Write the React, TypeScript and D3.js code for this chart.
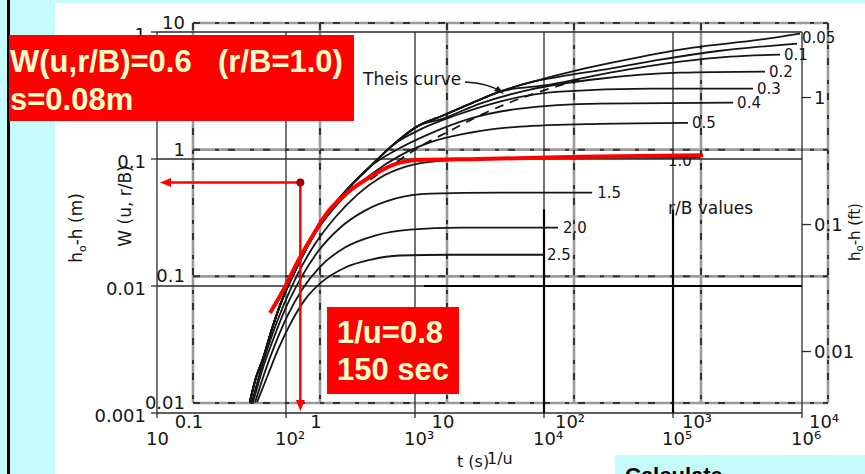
import React, { useEffect, useRef } from 'react';
import * as d3 from 'd3';

const width = 865;
const height = 474;

// type curve sheet: 1/u against W(u, r/B)
const typeXTicks = [0.1, 1, 10, 100, 1000, 10000];
const typeXLabels = ['0.1', '1', '10', '10²', '10³', '10⁴'];
const typeYTicks = [0.01, 0.1, 1, 10];
const typeYLabels = ['0.01', '0.1', '1', '10'];

// data sheet: t (s) against h0-h (m), right axis in ft
const dataXTicks = [10, 100, 1000, 1e4, 1e5, 1e6];
const dataXLabels = ['10', '10²', '10³', '10⁴', '10⁵', '10⁶'];
const dataYTicks = [0.001, 0.01, 0.1, 1];
const dataYLabels = ['0.001', '0.01', '0.1', '1'];
const ftTicks = [1, 0.1, 0.01];
const ftLabels = ['1', '0.1', '0.01'];

// [1/u, W]
const theis: [number, number][] = [
  [0.28, 0.0101], [0.31, 0.0153], [0.36, 0.0232], [0.41, 0.036], [0.48, 0.0577],
  [0.66, 0.119], [0.88, 0.206], [1.2, 0.336], [1.72, 0.511], [2.48, 0.734],
  [3.76, 1.09], [5.8, 1.52], [9.3, 1.86], [16, 2.35], [26.1, 2.87], [47.6, 3.44],
  [111, 4.28], [261, 5.13], [865, 6.38], [2915, 7.38], [6020, 8.24],
];
// leaky curves leaving the Theis curve (first point lies on it)
const rB005: [number, number][] = [[47.6, 3.44], [77.6, 3.77], [192, 4.36], [476, 5.13], [1413, 6.04], [2915, 6.5], [5700, 6.87]];
const rB01: [number, number][] = [[26.1, 2.87], [64.7, 3.26], [192, 4.05], [683, 4.95], [1690, 5.42], [4190, 5.62]];
const rB02: [number, number][] = [[5.8, 1.52], [9.3, 1.76], [18.2, 2.31], [45, 2.98], [160, 3.63], [683, 4.05], [3190, 4.13]];
const rB03: [number, number][] = [[3.76, 1.09], [6.13, 1.44], [11.6, 1.86], [26.1, 2.4], [77.6, 2.87], [397, 3.03], [2570, 3.03]];
const rB04: [number, number][] = [[2.48, 0.734], [3.9, 0.982], [7.35, 1.34], [15.2, 1.76], [37.6, 2.11], [160, 2.31], [1790, 2.35]];
const rB06: [number, number][] = [[0.88, 0.206], [1.24, 0.33], [1.72, 0.466], [2.57, 0.647], [4.26, 0.897], [7.35, 1.14], [15.2, 1.36], [37.6, 1.52], [160, 1.6], [790, 1.63]];
// curves drawn in full
const rB10: [number, number][] = [[0.29, 0.0101], [0.35, 0.0198], [0.42, 0.0345], [0.52, 0.06], [0.67, 0.105], [0.913, 0.18], [1.31, 0.29], [1.96, 0.44], [2.97, 0.6], [4.67, 0.73], [8.81, 0.815], [26.1, 0.849], [160, 0.865], [982, 0.865]];
const rB15: [number, number][] = [[0.297, 0.0101], [0.356, 0.019], [0.427, 0.0316], [0.53, 0.0546], [0.696, 0.0942], [0.964, 0.157], [1.44, 0.242], [2.26, 0.33], [3.9, 0.41], [7.35, 0.45], [26.1, 0.458], [139, 0.458]];
const rB20: [number, number][] = [[0.308, 0.0101], [0.369, 0.0177], [0.442, 0.0289], [0.55, 0.0481], [0.721, 0.0785], [1, 0.119], [1.57, 0.169], [2.71, 0.21], [5.11, 0.234], [12.7, 0.242], [74.8, 0.242]];
const rB25: [number, number][] = [[0.319, 0.0101], [0.39, 0.0168], [0.467, 0.0264], [0.58, 0.0416], [0.762, 0.0655], [1.04, 0.0908], [1.57, 0.117], [2.48, 0.135], [4.26, 0.146], [10.6, 0.148], [57, 0.148]];
const dashedCurve: [number, number][] = [[2.48, 0.58], [4.26, 0.834], [6.96, 1.14], [10.6, 1.41], [17.2, 1.82], [29.7, 2.31], [54, 2.87], [111, 3.57]];

const leakyLabels = ['0.05', '0.1', '0.2', '0.3', '0.4', '0.5'];
const fullLabels = ['1.0', '1.5', '2.0', '2.5'];

// observed drawdown, [t (s), h0-h (m)]
const observed: [number, number][] = [
  [75.2, 0.00613], [98.2, 0.00981], [121.7, 0.0152], [153.5, 0.023], [208, 0.0376],
  [297, 0.054], [448, 0.0721], [675, 0.0898], [1037, 0.0981], [3190, 0.1],
  [19000, 0.104], [171000, 0.107],
];
const matchInvU = 0.7;
const matchW = 0.55;

const scanFont = 'DejaVu Sans, sans-serif';
const boxFont = 'Liberation Sans, Arial, sans-serif';
const ink = '#151515';

const App = () => {
  const ref = useRef<SVGSVGElement>(null);

  useEffect(() => {
    const svg = d3.select(ref.current);
    svg.selectAll('*').remove();

    const xT = d3.scaleLog().domain([0.1, 1e4]).range([193, 828]);
    const yT = d3.scaleLog().domain([0.01, 10]).range([403, 23]);
    const xD = d3.scaleLog().domain([10, 1e6]).range([157, 802]);
    const yD = d3.scaleLog().domain([0.001, 1]).range([413, 32]);
    const yFt = d3.scaleLog().domain([0.001 / 0.3048, 1 / 0.3048]).range([413, 32]);

    svg.append('rect').attr('width', width).attr('height', height).attr('fill', '#c6fbfc');
    svg.append('rect').attr('x', 55).attr('y', 3).attr('width', width - 55).attr('height', height - 3).attr('fill', '#fff');
    svg.append('rect').attr('x', 7).attr('y', 0).attr('width', 3).attr('height', height).attr('fill', '#000');

    // type curve grid (scanned, grey with darker patches)
    const tg = svg.append('g');
    const typeGridStyle = (sel: any) => {
      sel.attr('stroke', '#9a9a9a').attr('stroke-width', 2.6);
    };
    const typeGridDark = (sel: any) => {
      sel.attr('stroke', '#333').attr('stroke-width', 2).attr('stroke-dasharray', '7 15 4 9');
    };
    [typeGridStyle, typeGridDark].forEach(style => {
      tg.selectAll(null).data(typeXTicks).enter().append('line')
        .attr('x1', d => xT(d)).attr('x2', d => xT(d))
        .attr('y1', yT(10)).attr('y2', yT(0.01)).call(style);
      tg.selectAll(null).data(typeYTicks).enter().append('line')
        .attr('x1', xT(0.1)).attr('x2', xT(1e4))
        .attr('y1', d => yT(d)).attr('y2', d => yT(d)).call(style);
    });

    // data sheet grid
    const dg = svg.append('g').attr('stroke', '#2a2a2a').attr('stroke-width', 1.3);
    dg.selectAll(null).data(dataXTicks).enter().append('line')
      .attr('x1', d => xD(d)).attr('x2', d => xD(d))
      .attr('y1', yD(1)).attr('y2', yD(0.001));
    dg.selectAll(null).data(dataYTicks).enter().append('line')
      .attr('x1', xD(10)).attr('x2', xD(1e6))
      .attr('y1', d => yD(d)).attr('y2', d => yD(d));
    // heavier strokes on the data sheet
    const heavy = svg.append('g').attr('stroke', '#000').attr('stroke-width', 2.2);
    heavy.selectAll(null).data([1e4, 1e5]).enter().append('line')
      .attr('x1', d => xD(d)).attr('x2', d => xD(d))
      .attr('y1', yD(0.04)).attr('y2', yD(0.001));
    heavy.append('line').attr('x1', xD(1175)).attr('x2', xD(1e6))
      .attr('y1', yD(0.01)).attr('y2', yD(0.01));

    // ticks
    dg.selectAll(null).data(dataYTicks).enter().append('line')
      .attr('x1', xD(10) - 6).attr('x2', xD(10))
      .attr('y1', d => yD(d)).attr('y2', d => yD(d));
    dg.selectAll(null).data(dataXTicks).enter().append('line')
      .attr('x1', d => xD(d)).attr('x2', d => xD(d))
      .attr('y1', yD(0.001)).attr('y2', yD(0.001) + 5);
    dg.selectAll(null).data(ftTicks).enter().append('line')
      .attr('x1', xD(1e6)).attr('x2', xD(1e6) + 9)
      .attr('y1', d => yFt(d)).attr('y2', d => yFt(d));

    // tick labels
    const lab = svg.append('g').attr('font-family', scanFont).attr('font-size', 18).attr('fill', ink);
    lab.selectAll(null).data(typeYTicks).enter().append('text')
      .attr('x', 185).attr('y', d => yT(d) + 6).attr('text-anchor', 'end')
      .text((d, i) => typeYLabels[i]);
    lab.selectAll(null).data(dataYTicks).enter().append('text')
      .attr('x', 146).attr('y', d => yD(d) + 9).attr('text-anchor', 'end')
      .text((d, i) => dataYLabels[i]);
    lab.selectAll(null).data(typeXTicks).enter().append('text')
      .attr('x', d => xT(d) - 4).attr('y', 428).attr('text-anchor', 'middle')
      .text((d, i) => typeXLabels[i]);
    lab.selectAll(null).data(dataXTicks).enter().append('text')
      .attr('x', d => xD(d) - 11).attr('y', 445)
      .text((d, i) => dataXLabels[i]);
    lab.selectAll(null).data(ftTicks).enter().append('text')
      .attr('x', xD(1e6) + 12).attr('y', d => yFt(d) + 6)
      .text((d, i) => ftLabels[i]);

    // axis titles
    const t1 = lab.append('text').attr('transform', 'translate(82,228) rotate(-90)')
      .attr('text-anchor', 'middle').attr('font-size', 17);
    t1.append('tspan').text('h');
    t1.append('tspan').attr('font-size', 11).attr('dy', 4).text('o');
    t1.append('tspan').attr('dy', -4).text('-h (m)');
    lab.append('text').attr('transform', 'translate(131,206) rotate(-90)')
      .attr('text-anchor', 'middle').attr('font-size', 17).text('W (u, r/B)');
    const t3 = lab.append('text').attr('transform', 'translate(860,232) rotate(-90)')
      .attr('text-anchor', 'middle').attr('font-size', 15);
    t3.append('tspan').text('h');
    t3.append('tspan').attr('font-size', 10).attr('dy', 3).text('o');
    t3.append('tspan').attr('dy', -3).text('-h (ft)');
    lab.append('text').attr('x', 457).attr('y', 467).attr('font-size', 16).text('t (s)');
    lab.append('text').attr('x', 487).attr('y', 464).attr('font-size', 16).text('1/u');

    // type curves
    const line = d3.line<[number, number]>()
      .x(d => xT(d[0])).y(d => yT(d[1]))
      .curve(d3.curveMonotoneX);
    const curves = svg.append('g').attr('fill', 'none').attr('stroke', ink).attr('stroke-width', 1.8);
    curves.append('path').attr('d', line(theis));
    const leaky = [rB005, rB01, rB02, rB03, rB04, rB06];
    leaky.forEach(c => {
      const head = theis.filter(d => d[0] < c[0][0]);
      curves.append('path').attr('d', line([...head, ...c]));
    });
    const full = [rB10, rB15, rB20, rB25];
    full.forEach(c => curves.append('path').attr('d', line(c)));
    curves.append('path').attr('d', line(dashedCurve)).attr('stroke-dasharray', '9 7');

    // curve labels
    const clab = svg.append('g').attr('font-family', scanFont).attr('font-size', 15).attr('fill', ink);
    const leakyOffsets = [[5, -1], [4, 5], [4, 5], [4, 5], [4, 5], [4, 5]];
    leaky.forEach((c, i) => {
      const last = c[c.length - 1];
      clab.append('text')
        .attr('x', xT(last[0]) + leakyOffsets[i][0]).attr('y', yT(last[1]) + leakyOffsets[i][1])
        .text(leakyLabels[i]);
    });
    const fullOffsets = [[-32, 8], [5, 5], [5, 5], [4, 5]];
    full.forEach((c, i) => {
      const last = c[c.length - 1];
      clab.append('text')
        .attr('x', xT(last[0]) + fullOffsets[i][0]).attr('y', yT(last[1]) + fullOffsets[i][1])
        .text(fullLabels[i]);
    });
    clab.append('text').attr('x', 363).attr('y', 85).attr('font-size', 17).text('Theis curve');
    clab.append('text').attr('x', 668).attr('y', 214).attr('font-size', 17).text('r/B values');
    svg.append('path').attr('d', 'M465,82 Q488,83 502,92')
      .attr('fill', 'none').attr('stroke', ink).attr('stroke-width', 1.3);
    svg.append('path').attr('d', 'M504,94 L494,91 L498,86 Z').attr('fill', ink);

    // observed data and match point
    const obsLine = d3.line<[number, number]>()
      .x(d => xD(d[0])).y(d => yD(d[1]))
      .curve(d3.curveMonotoneX);
    svg.append('path').attr('d', obsLine(observed))
      .attr('fill', 'none').attr('stroke', '#ff0000').attr('stroke-width', 4).attr('stroke-linecap', 'butt');

    const mx = xT(matchInvU);
    const my = yT(matchW);
    const ax = xD(10) + 3;
    const ay = yD(0.001) - 2;
    const red = svg.append('g');
    red.append('line').attr('x1', mx).attr('x2', ax + 8).attr('y1', my).attr('y2', my)
      .attr('stroke', '#ff0000').attr('stroke-width', 2.5);
    red.append('path').attr('d', `M${ax},${my} L${ax + 11},${my - 4.5} L${ax + 11},${my + 4.5} Z`).attr('fill', '#ff0000');
    red.append('line').attr('x1', mx).attr('x2', mx).attr('y1', my).attr('y2', ay - 8)
      .attr('stroke', '#ff0000').attr('stroke-width', 2.5);
    red.append('path').attr('d', `M${mx},${ay} L${mx - 4.5},${ay - 11} L${mx + 4.5},${ay - 11} Z`).attr('fill', '#ff0000');
    red.append('circle').attr('cx', mx).attr('cy', my).attr('r', 4).attr('fill', '#a00000');

    // annotation boxes
    const boxes = svg.append('g').attr('font-family', boxFont).attr('font-weight', 'bold')
      .attr('font-size', 31).attr('fill', '#ffffcc');
    boxes.append('rect').attr('x', 9).attr('y', 35).attr('width', 345).attr('height', 86).attr('fill', '#ff0000');
    boxes.append('text').attr('x', 10).attr('y', 72).text('W(u,r/B)=0.6');
    boxes.append('text').attr('x', 218).attr('y', 72).text('(r/B=1.0)');
    boxes.append('text').attr('x', 10).attr('y', 110).text('s=0.08m');
    boxes.append('rect').attr('x', 327).attr('y', 307).attr('width', 132).attr('height', 87).attr('fill', '#ff0000');
    boxes.append('text').attr('x', 337).attr('y', 343).text('1/u=0.8');
    boxes.append('text').attr('x', 337).attr('y', 380).text('150 sec');

    svg.append('rect').attr('x', 615).attr('y', 455).attr('width', 250).attr('height', 19).attr('fill', '#c6fbfc');
    svg.append('text').attr('x', 625).attr('y', 483).attr('font-family', boxFont)
      .attr('font-weight', 'bold').attr('font-size', 22).attr('fill', '#000').text('Calculate');
  }, []);

  return (
    <svg ref={ref} width={width} height={height}
      style={{ position: 'absolute', left: 0, top: 0, display: 'block' }} />
  );
};

export default App;
